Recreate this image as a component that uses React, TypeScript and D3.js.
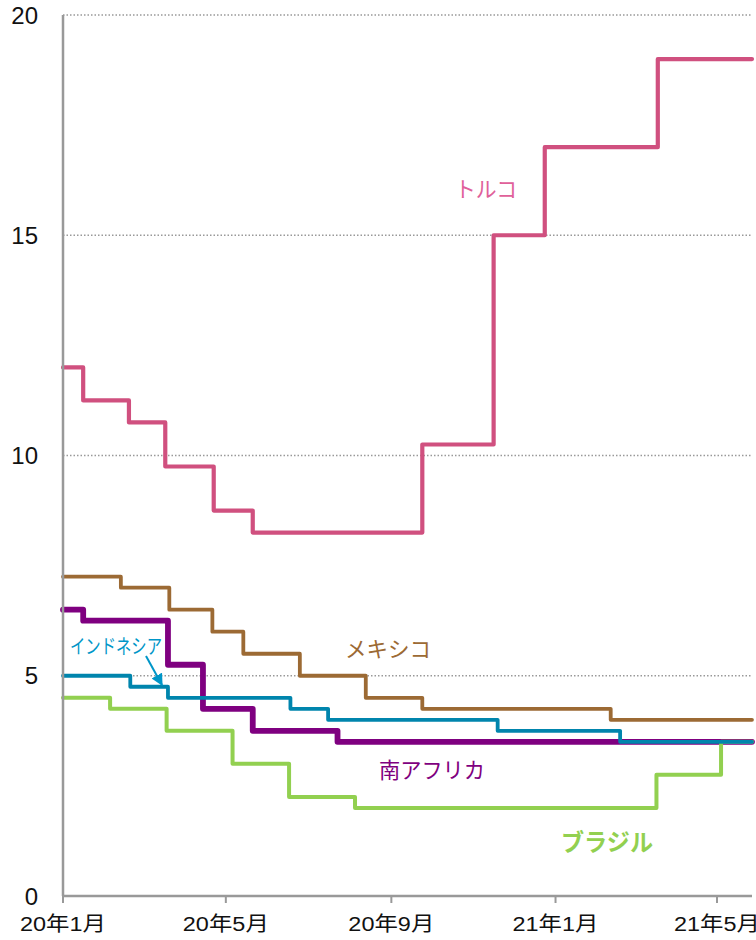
import React from "react";
import * as d3 from "d3";

const W = 756;
const H = 940;

type Pt = [string, number];

const turkey: Pt[] = [
  ["2020-01-01", 12], ["2020-01-16", 11.25], ["2020-02-19", 10.75], ["2020-03-17", 9.75],
  ["2020-04-22", 8.75], ["2020-05-21", 8.25], ["2020-09-24", 10.25], ["2020-11-16", 15],
  ["2020-12-24", 17], ["2021-03-18", 19],
];
const mexico: Pt[] = [
  ["2020-01-01", 7.25], ["2020-02-13", 7.0], ["2020-03-20", 6.5], ["2020-04-21", 6.0],
  ["2020-05-14", 5.5], ["2020-06-25", 5.0], ["2020-08-13", 4.5], ["2020-09-24", 4.25],
  ["2021-02-11", 4.0],
];
const southAfrica: Pt[] = [
  ["2020-01-01", 6.5], ["2020-01-16", 6.25], ["2020-03-19", 5.25], ["2020-04-14", 4.25],
  ["2020-05-21", 3.75], ["2020-07-23", 3.5],
];
const indonesia: Pt[] = [
  ["2020-01-01", 5.0], ["2020-02-20", 4.75], ["2020-03-19", 4.5], ["2020-06-18", 4.25],
  ["2020-07-16", 4.0], ["2020-11-19", 3.75], ["2021-02-18", 3.5],
];
const brazil: Pt[] = [
  ["2020-01-01", 4.5], ["2020-02-05", 4.25], ["2020-03-18", 3.75], ["2020-05-06", 3.0],
  ["2020-06-17", 2.25], ["2020-08-05", 2.0], ["2021-03-17", 2.75], ["2021-05-04", 3.5],
];

const endDate = "2021-05-27";
const yTicks = [0, 5, 10, 15, 20];
const xTicks = ["2020-01-01", "2020-05-01", "2020-09-01", "2021-01-01", "2021-05-01"];
const xTickLabels = ["20年1月", "20年5月", "20年9月", "21年1月", "21年5月"];

const parse = (s: string) => {
  const [y, m, d] = s.split("-").map(Number);
  return new Date(y, m - 1, d);
};

const series = [
  { name: "トルコ", data: turkey, color: "#D0507F", width: 4.2 },
  { name: "メキシコ", data: mexico, color: "#9C6A34", width: 3.8 },
  { name: "南アフリカ", data: southAfrica, color: "#7F0080", width: 5.8 },
  { name: "ブラジル", data: brazil, color: "#92D050", width: 4 },
  { name: "インドネシア", data: indonesia, color: "#0085AD", width: 3.8 },
];

const labels = [
  { text: "トルコ", x: 486, y: 187, color: "#E0609A", size: 22, weight: 400, len: 62 },
  { text: "メキシコ", x: 388, y: 647, color: "#9C6A34", size: 22, weight: 400, len: 86 },
  { text: "南アフリカ", x: 432, y: 768, color: "#7F0080", size: 22, weight: 400, len: 106 },
  { text: "ブラジル", x: 607, y: 840, color: "#92D050", size: 24, weight: 700, len: 92 },
  { text: "インドネシア", x: 116, y: 645, color: "#0096C8", size: 20, weight: 400, len: 92 },
];

export default function App() {
  const x = d3.scaleTime().domain([parse("2020-01-01"), parse(endDate)]).range([63, 752]);
  const y = d3.scaleLinear().domain([0, 20]).range([896, 15]);
  const line = d3
    .line<[Date, number]>()
    .x((d) => x(d[0]))
    .y((d) => y(d[1]))
    .curve(d3.curveStepAfter);

  const font = "'Liberation Sans', Arial, 'Noto Sans CJK JP', sans-serif";
  const jfont = "'Noto Sans CJK JP', sans-serif";

  return (
    <svg
      width={W}
      height={H}
      style={{ position: "absolute", left: 0, top: 0, background: "#fff" }}
    >
      {yTicks
        .filter((t) => t > 0)
        .map((t) => (
          <line
            key={"g" + t}
            x1={x.range()[0]}
            x2={x.range()[1]}
            y1={y(t)}
            y2={y(t)}
            stroke="#999"
            strokeWidth={1.3}
            strokeDasharray="1.5,2"
          />
        ))}
      {yTicks.map((t) => (
        <text
          key={"yl" + t}
          x={38}
          y={y(t)}
          textAnchor="end"
          dominantBaseline="central"
          fontFamily={font}
          fontSize={24}
          fill="#111"
        >
          {t}
        </text>
      ))}
      {xTicks.map((t, i) => (
        <g key={"xt" + t}>
          <line x1={x(parse(t))} x2={x(parse(t))} y1={896} y2={903} stroke="#999" strokeWidth={2} />
          <text
            x={x(parse(t))}
            y={931}
            textAnchor="middle"
            fontFamily={font}
            fontSize={20}
            fill="#111"
            textLength={86}
            lengthAdjust="spacingAndGlyphs"
          >
            {xTickLabels[i]}
          </text>
        </g>
      ))}
      {series.map((s) => {
        const pts: [Date, number][] = s.data.map((d) => [parse(d[0]), d[1]]);
        pts.push([parse(endDate), s.data[s.data.length - 1][1]]);
        return (
          <path
            key={s.name}
            d={line(pts) || ""}
            fill="none"
            stroke={s.color}
            strokeWidth={s.width}
            strokeLinejoin="round"
            strokeLinecap="round"
          />
        );
      })}
      <line x1={63} x2={63} y1={15} y2={896} stroke="#999" strokeWidth={2.5} />
      <line x1={63} x2={752} y1={896} y2={896} stroke="#999" strokeWidth={2.5} />
      {labels.map((l) => (
        <text
          key={"l" + l.text}
          x={l.x}
          y={l.y}
          textAnchor="middle"
          dominantBaseline="central"
          fontFamily={jfont}
          fontSize={l.size}
          fontWeight={l.weight}
          fill={l.color}
          textLength={l.len}
          lengthAdjust="spacingAndGlyphs"
        >
          {l.text}
        </text>
      ))}
      <defs>
        <marker
          id="arr"
          viewBox="0 0 10 10"
          refX={9}
          refY={5}
          markerWidth={6}
          markerHeight={6}
          markerUnits="strokeWidth"
          orient="auto"
        >
          <path d="M0,0 L10,5 L0,10 z" fill="#0096C8" />
        </marker>
      </defs>
      <line
        x1={146}
        y1={656}
        x2={162}
        y2={685}
        stroke="#0096C8"
        strokeWidth={2}
        markerEnd="url(#arr)"
      />
    </svg>
  );
}
